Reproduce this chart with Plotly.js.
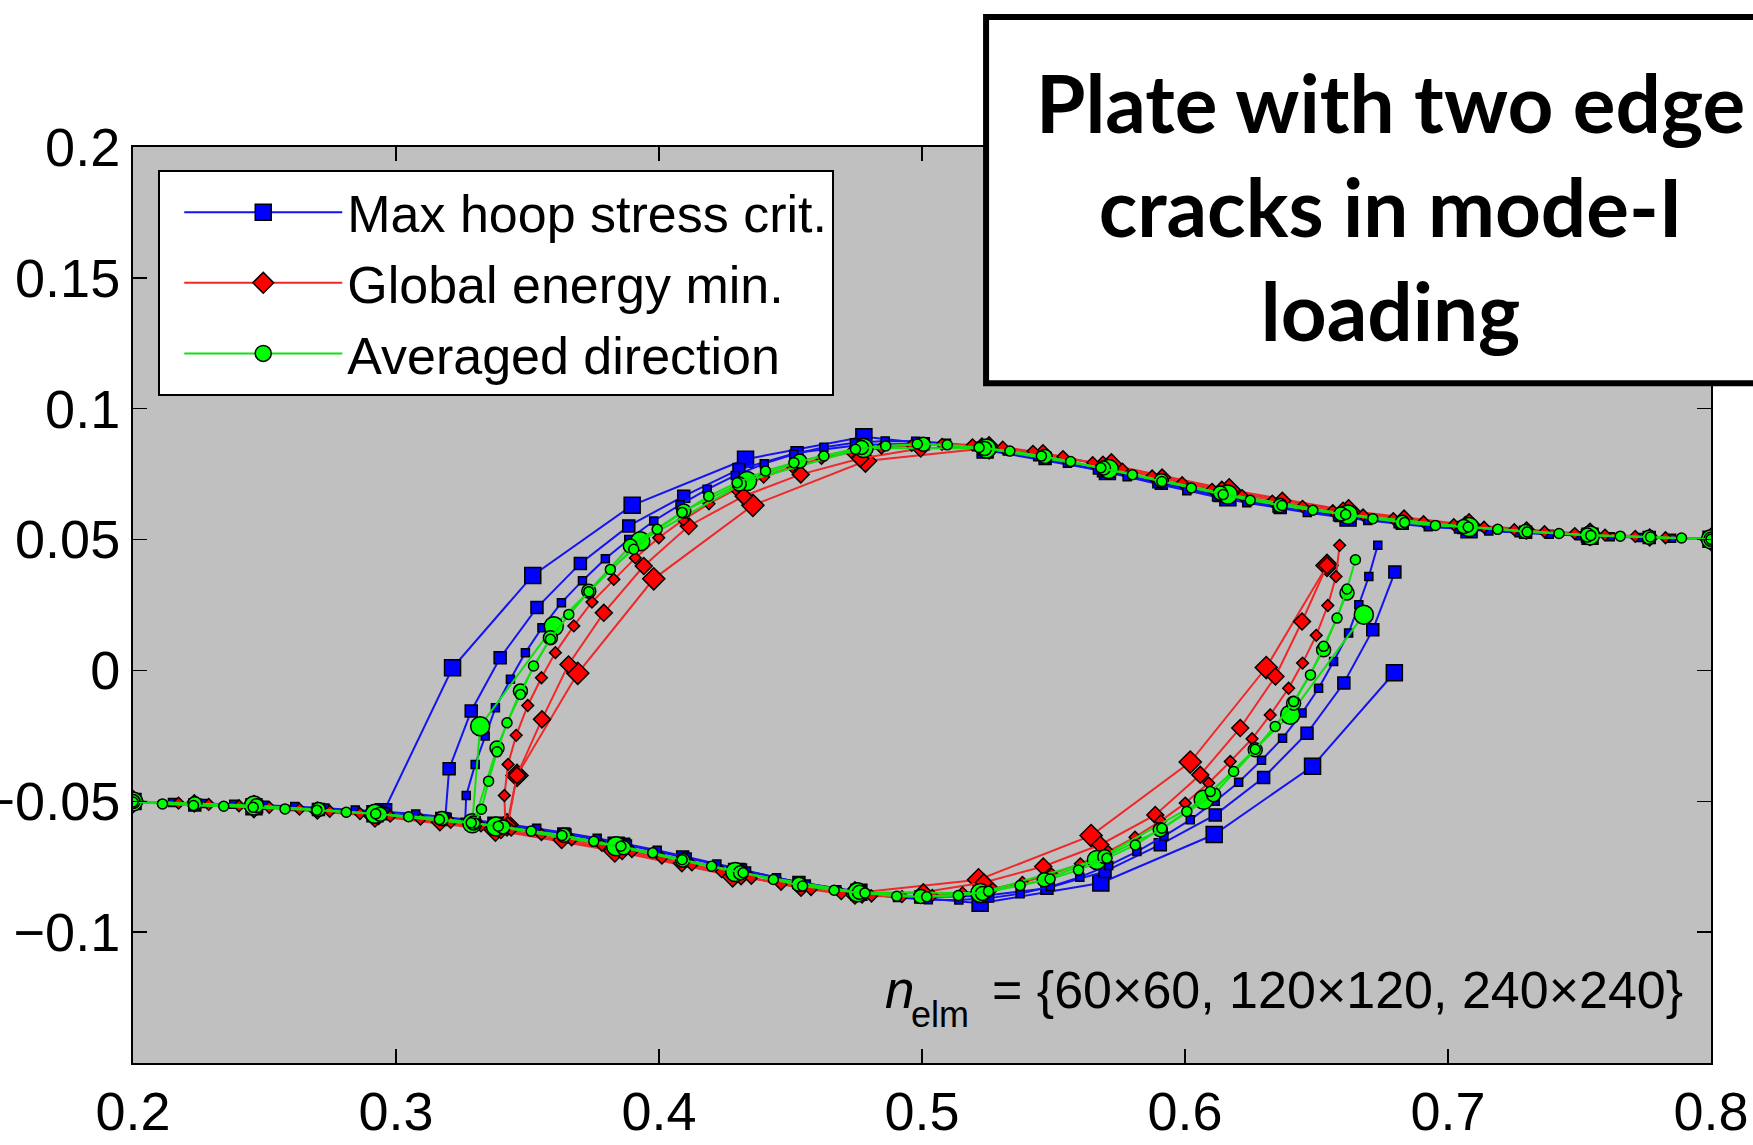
<!DOCTYPE html>
<html><head><meta charset="utf-8">
<script src="https://cdn.plot.ly/plotly-3.0.1.min.js"></script>
<style>html,body{margin:0;padding:0;background:#fff;} #chart{width:1753px;height:1145px;}</style>
</head><body><div id="chart"></div>
<script>
// ---- Crack paths (x, y) ----
// Right crack starts at (0.8, 0.05); left crack starts at (0.2, -0.05)

// Max hoop stress criterion
const blueCoarseRightX = [0.8000, 0.7540, 0.7080, 0.6620, 0.6163, 0.5705, 0.5240, 0.4779, 0.4329, 0.3898, 0.3520, 0.3215, 0.2953];
const blueCoarseRightY = [0.0501, 0.0513, 0.0538, 0.0582, 0.0660, 0.0760, 0.0842, 0.0893, 0.0807, 0.0631, 0.0363, 0.0010, -0.0540];
const blueCoarseLeftX = [0.2000, 0.2460, 0.2920, 0.3380, 0.3837, 0.4295, 0.4760, 0.5221, 0.5680, 0.6111, 0.6485, 0.6796];
const blueCoarseLeftY = [-0.0501, -0.0521, -0.0548, -0.0592, -0.0668, -0.0768, -0.0848, -0.0890, -0.0812, -0.0627, -0.0366, -0.0009];

const blueMediumRightX = [0.8000, 0.7765, 0.7530, 0.7295, 0.7060, 0.6826, 0.6593, 0.6362, 0.6134, 0.5910, 0.5690, 0.5468, 0.5238, 0.5005, 0.4771, 0.4525, 0.4304, 0.4094, 0.3885, 0.3701, 0.3536, 0.3396, 0.3286, 0.3202, 0.3187];
const blueMediumRightY = [0.0501, 0.0508, 0.0515, 0.0528, 0.0546, 0.0562, 0.0592, 0.0623, 0.0668, 0.0715, 0.0763, 0.0810, 0.0846, 0.0866, 0.0862, 0.0832, 0.0768, 0.0666, 0.0552, 0.0409, 0.0240, 0.0048, -0.0155, -0.0376, -0.0570];
const blueMediumLeftX = [0.2000, 0.2235, 0.2470, 0.2705, 0.2940, 0.3174, 0.3407, 0.3638, 0.3866, 0.4090, 0.4310, 0.4532, 0.4762, 0.4995, 0.5229, 0.5475, 0.5696, 0.5906, 0.6115, 0.6299, 0.6464, 0.6604, 0.6714, 0.6798];
const blueMediumLeftY = [-0.0501, -0.0514, -0.0521, -0.0531, -0.0545, -0.0566, -0.0590, -0.0625, -0.0664, -0.0713, -0.0763, -0.0810, -0.0846, -0.0866, -0.0862, -0.0832, -0.0768, -0.0666, -0.0552, -0.0409, -0.0240, -0.0048, 0.0155, 0.0376];

const blueFineRightX = [0.8000, 0.7850, 0.7733, 0.7617, 0.7501, 0.7385, 0.7270, 0.7155, 0.7040, 0.6925, 0.6810, 0.6695, 0.6580, 0.6465, 0.6350, 0.6235, 0.6120, 0.6007, 0.5893, 0.5780, 0.5667, 0.5553, 0.5440, 0.5324, 0.5209, 0.5093, 0.4976, 0.4860, 0.4743, 0.4627, 0.4512, 0.4400, 0.4290, 0.4183, 0.4080, 0.3980, 0.3885, 0.3796, 0.3709, 0.3629, 0.3555, 0.3492, 0.3435, 0.3378, 0.3339, 0.3301, 0.3267, 0.3263];
const blueFineRightY = [0.0501, 0.0505, 0.0508, 0.0511, 0.0515, 0.0520, 0.0526, 0.0533, 0.0540, 0.0549, 0.0560, 0.0573, 0.0587, 0.0603, 0.0621, 0.0641, 0.0663, 0.0687, 0.0713, 0.0740, 0.0766, 0.0792, 0.0816, 0.0838, 0.0855, 0.0868, 0.0876, 0.0877, 0.0870, 0.0853, 0.0826, 0.0790, 0.0745, 0.0692, 0.0633, 0.0571, 0.0500, 0.0427, 0.0343, 0.0259, 0.0163, 0.0068, -0.0034, -0.0143, -0.0251, -0.0359, -0.0478, -0.0580];
const blueFineLeftX = [0.2000, 0.2150, 0.2267, 0.2383, 0.2499, 0.2615, 0.2730, 0.2845, 0.2960, 0.3075, 0.3190, 0.3305, 0.3420, 0.3535, 0.3650, 0.3765, 0.3880, 0.3993, 0.4107, 0.4220, 0.4333, 0.4447, 0.4560, 0.4676, 0.4791, 0.4907, 0.5024, 0.5140, 0.5257, 0.5373, 0.5488, 0.5600, 0.5710, 0.5817, 0.5920, 0.6020, 0.6115, 0.6204, 0.6291, 0.6371, 0.6445, 0.6508, 0.6565, 0.6622, 0.6661, 0.6699, 0.6733];
const blueFineLeftY = [-0.0501, -0.0505, -0.0508, -0.0511, -0.0515, -0.0520, -0.0526, -0.0533, -0.0540, -0.0549, -0.0560, -0.0573, -0.0587, -0.0603, -0.0621, -0.0641, -0.0663, -0.0687, -0.0713, -0.0740, -0.0766, -0.0792, -0.0816, -0.0838, -0.0855, -0.0868, -0.0876, -0.0877, -0.0870, -0.0853, -0.0826, -0.0790, -0.0745, -0.0692, -0.0633, -0.0571, -0.0500, -0.0427, -0.0343, -0.0259, -0.0163, -0.0068, 0.0034, 0.0143, 0.0251, 0.0359, 0.0478];

// Global energy minimisation
const redCoarseRightX = [0.8000, 0.7540, 0.7080, 0.6622, 0.6168, 0.5720, 0.5255, 0.4785, 0.4357, 0.3980, 0.3691, 0.3460, 0.3422];
const redCoarseRightY = [0.0501, 0.0520, 0.0556, 0.0610, 0.0690, 0.0785, 0.0850, 0.0800, 0.0631, 0.0350, -0.0011, -0.0401, -0.0590];
const redCoarseLeftX = [0.2000, 0.2460, 0.2920, 0.3378, 0.3832, 0.4280, 0.4745, 0.5215, 0.5643, 0.6020, 0.6309, 0.6540];
const redCoarseLeftY = [-0.0501, -0.0520, -0.0556, -0.0610, -0.0690, -0.0785, -0.0850, -0.0800, -0.0631, -0.0350, 0.0011, 0.0401];

const redMediumRightX = [0.8000, 0.7767, 0.7533, 0.7299, 0.7066, 0.6833, 0.6601, 0.6370, 0.6140, 0.5913, 0.5688, 0.5460, 0.5228, 0.4995, 0.4765, 0.4539, 0.4322, 0.4113, 0.3942, 0.3790, 0.3656, 0.3555, 0.3460, 0.3425];
const redMediumRightY = [0.0501, 0.0508, 0.0519, 0.0535, 0.0556, 0.0580, 0.0610, 0.0648, 0.0690, 0.0737, 0.0786, 0.0830, 0.0856, 0.0848, 0.0810, 0.0749, 0.0666, 0.0552, 0.0399, 0.0220, 0.0023, -0.0187, -0.0401, -0.0592];
const redMediumLeftX = [0.2000, 0.2233, 0.2467, 0.2701, 0.2934, 0.3167, 0.3399, 0.3630, 0.3860, 0.4087, 0.4312, 0.4540, 0.4772, 0.5005, 0.5235, 0.5461, 0.5678, 0.5887, 0.6058, 0.6210, 0.6344, 0.6445, 0.6540];
const redMediumLeftY = [-0.0501, -0.0508, -0.0519, -0.0535, -0.0556, -0.0580, -0.0610, -0.0648, -0.0690, -0.0737, -0.0786, -0.0830, -0.0856, -0.0848, -0.0810, -0.0749, -0.0666, -0.0552, -0.0399, -0.0220, -0.0023, 0.0187, 0.0401];

const redFineRightX = [0.8000, 0.7827, 0.7712, 0.7597, 0.7482, 0.7367, 0.7252, 0.7137, 0.7022, 0.6907, 0.6792, 0.6677, 0.6562, 0.6447, 0.6332, 0.6217, 0.6103, 0.5989, 0.5875, 0.5762, 0.5649, 0.5536, 0.5422, 0.5307, 0.5192, 0.5076, 0.4961, 0.4846, 0.4731, 0.4618, 0.4507, 0.4398, 0.4292, 0.4190, 0.4092, 0.3999, 0.3910, 0.3828, 0.3745, 0.3676, 0.3606, 0.3553, 0.3501, 0.3457, 0.3426, 0.3412, 0.3416];
const redFineRightY = [0.0501, 0.0507, 0.0512, 0.0517, 0.0523, 0.0530, 0.0538, 0.0547, 0.0557, 0.0568, 0.0580, 0.0594, 0.0610, 0.0627, 0.0647, 0.0668, 0.0692, 0.0717, 0.0743, 0.0769, 0.0794, 0.0817, 0.0837, 0.0853, 0.0862, 0.0864, 0.0860, 0.0850, 0.0834, 0.0810, 0.0778, 0.0739, 0.0692, 0.0637, 0.0575, 0.0507, 0.0430, 0.0348, 0.0261, 0.0170, 0.0068, -0.0028, -0.0134, -0.0248, -0.0359, -0.0478, -0.0590];
const redFineLeftX = [0.2000, 0.2173, 0.2288, 0.2403, 0.2518, 0.2633, 0.2748, 0.2863, 0.2978, 0.3093, 0.3208, 0.3323, 0.3438, 0.3553, 0.3668, 0.3783, 0.3897, 0.4011, 0.4125, 0.4238, 0.4351, 0.4464, 0.4578, 0.4693, 0.4808, 0.4924, 0.5039, 0.5154, 0.5269, 0.5382, 0.5493, 0.5602, 0.5708, 0.5810, 0.5908, 0.6001, 0.6090, 0.6172, 0.6255, 0.6324, 0.6394, 0.6447, 0.6499, 0.6543, 0.6574, 0.6588];
const redFineLeftY = [-0.0501, -0.0507, -0.0512, -0.0517, -0.0523, -0.0530, -0.0538, -0.0547, -0.0557, -0.0568, -0.0580, -0.0594, -0.0610, -0.0627, -0.0647, -0.0668, -0.0692, -0.0717, -0.0743, -0.0769, -0.0794, -0.0817, -0.0837, -0.0853, -0.0862, -0.0864, -0.0860, -0.0850, -0.0834, -0.0810, -0.0778, -0.0739, -0.0692, -0.0637, -0.0575, -0.0507, -0.0430, -0.0348, -0.0261, -0.0170, -0.0068, 0.0028, 0.0134, 0.0248, 0.0359, 0.0478];

// Averaged direction
const greenCoarseRightX = [0.8000, 0.7540, 0.7080, 0.6620, 0.6163, 0.5710, 0.5245, 0.4778, 0.4335, 0.3929, 0.3600, 0.3320, 0.3290];
const greenCoarseRightY = [0.0501, 0.0516, 0.0548, 0.0596, 0.0672, 0.0770, 0.0848, 0.0850, 0.0724, 0.0494, 0.0169, -0.0213, -0.0584];
const greenCoarseLeftX = [0.2000, 0.2460, 0.2920, 0.3380, 0.3837, 0.4290, 0.4755, 0.5222, 0.5665, 0.6071, 0.6400, 0.6680];
const greenCoarseLeftY = [-0.0501, -0.0516, -0.0548, -0.0596, -0.0672, -0.0770, -0.0848, -0.0850, -0.0724, -0.0494, -0.0169, 0.0213];

const greenMediumRightX = [0.8000, 0.7765, 0.7530, 0.7295, 0.7060, 0.6826, 0.6593, 0.6362, 0.6134, 0.5910, 0.5690, 0.5468, 0.5238, 0.5005, 0.4770, 0.4535, 0.4305, 0.4094, 0.3891, 0.3733, 0.3587, 0.3473, 0.3384, 0.3295];
const greenMediumRightY = [0.0501, 0.0509, 0.0517, 0.0531, 0.0550, 0.0566, 0.0598, 0.0630, 0.0678, 0.0725, 0.0773, 0.0817, 0.0848, 0.0864, 0.0852, 0.0800, 0.0712, 0.0609, 0.0475, 0.0303, 0.0125, -0.0079, -0.0296, -0.0583];
const greenMediumLeftX = [0.2000, 0.2235, 0.2470, 0.2705, 0.2940, 0.3174, 0.3407, 0.3638, 0.3866, 0.4090, 0.4310, 0.4532, 0.4762, 0.4995, 0.5230, 0.5465, 0.5695, 0.5906, 0.6109, 0.6267, 0.6413, 0.6527, 0.6616];
const greenMediumLeftY = [-0.0501, -0.0509, -0.0517, -0.0531, -0.0550, -0.0566, -0.0598, -0.0630, -0.0678, -0.0725, -0.0773, -0.0817, -0.0848, -0.0864, -0.0852, -0.0800, -0.0712, -0.0609, -0.0475, -0.0303, -0.0125, 0.0079, 0.0296];

const greenFineRightX = [0.8000, 0.7888, 0.7770, 0.7655, 0.7543, 0.7422, 0.7301, 0.7189, 0.7077, 0.6952, 0.6835, 0.6714, 0.6611, 0.6486, 0.6369, 0.6248, 0.6145, 0.6024, 0.5912, 0.5800, 0.5680, 0.5565, 0.5454, 0.5334, 0.5217, 0.5096, 0.4982, 0.4862, 0.4747, 0.4627, 0.4513, 0.4405, 0.4297, 0.4189, 0.4088, 0.3993, 0.3904, 0.3815, 0.3733, 0.3657, 0.3587, 0.3523, 0.3473, 0.3422, 0.3384, 0.3352, 0.3325, 0.3300];
const greenFineRightY = [0.0501, 0.0506, 0.0510, 0.0513, 0.0516, 0.0523, 0.0529, 0.0539, 0.0548, 0.0554, 0.0565, 0.0580, 0.0596, 0.0612, 0.0630, 0.0650, 0.0672, 0.0697, 0.0722, 0.0748, 0.0774, 0.0798, 0.0819, 0.0838, 0.0852, 0.0862, 0.0865, 0.0858, 0.0845, 0.0819, 0.0794, 0.0762, 0.0717, 0.0666, 0.0603, 0.0539, 0.0463, 0.0386, 0.0301, 0.0214, 0.0119, 0.0017, -0.0092, -0.0200, -0.0311, -0.0423, -0.0530, -0.0584];
const greenFineLeftX = [0.2000, 0.2112, 0.2230, 0.2345, 0.2457, 0.2578, 0.2699, 0.2811, 0.2923, 0.3048, 0.3165, 0.3286, 0.3389, 0.3514, 0.3631, 0.3752, 0.3855, 0.3976, 0.4088, 0.4200, 0.4320, 0.4435, 0.4546, 0.4666, 0.4783, 0.4904, 0.5018, 0.5138, 0.5253, 0.5373, 0.5487, 0.5595, 0.5703, 0.5811, 0.5912, 0.6007, 0.6096, 0.6185, 0.6267, 0.6343, 0.6413, 0.6477, 0.6527, 0.6578, 0.6616, 0.6648];
const greenFineLeftY = [-0.0503, -0.0510, -0.0516, -0.0519, -0.0523, -0.0529, -0.0534, -0.0542, -0.0548, -0.0559, -0.0570, -0.0582, -0.0595, -0.0614, -0.0631, -0.0653, -0.0672, -0.0697, -0.0723, -0.0748, -0.0773, -0.0799, -0.0824, -0.0840, -0.0850, -0.0863, -0.0865, -0.0860, -0.0844, -0.0822, -0.0797, -0.0763, -0.0718, -0.0667, -0.0603, -0.0539, -0.0463, -0.0386, -0.0301, -0.0214, -0.0119, -0.0017, 0.0092, 0.0200, 0.0311, 0.0423];

const methodNames = ['Max hoop stress crit.', 'Global energy min.', 'Averaged direction'];
const xTicks = [0.2, 0.3, 0.4, 0.5, 0.6, 0.7, 0.8];
const yTicks = [-0.1, -0.05, 0, 0.05, 0.1, 0.15, 0.2];
const yTickText = ['\u22120.1', '\u22120.05', '0', '0.05', '0.1', '0.15', '0.2'];
const meshSymbol = '<i>n</i>';
const meshSub = 'elm';
const meshValues = '= {60\u00d760, 120\u00d7120, 240\u00d7240}';
const boxTitle = '<b>Plate with two edge<br>cracks in mode-I<br>loading</b>';

// ---- styling ----
const methods = [
  {name: methodNames[0], line: '#1414f0', fill: '#0000ff', symbol: 'square', sizes: [16, 12, 8],
   sets: [[blueCoarseRightX, blueCoarseRightY, blueCoarseLeftX, blueCoarseLeftY],
          [blueMediumRightX, blueMediumRightY, blueMediumLeftX, blueMediumLeftY],
          [blueFineRightX, blueFineRightY, blueFineLeftX, blueFineLeftY]]},
  {name: methodNames[1], line: '#f02828', fill: '#ff0000', symbol: 'diamond', sizes: [17, 13, 9],
   sets: [[redCoarseRightX, redCoarseRightY, redCoarseLeftX, redCoarseLeftY],
          [redMediumRightX, redMediumRightY, redMediumLeftX, redMediumLeftY],
          [redFineRightX, redFineRightY, redFineLeftX, redFineLeftY]]},
  {name: methodNames[2], line: '#10e010', fill: '#00ff00', symbol: 'circle', sizes: [19, 14, 10],
   sets: [[greenCoarseRightX, greenCoarseRightY, greenCoarseLeftX, greenCoarseLeftY],
          [greenMediumRightX, greenMediumRightY, greenMediumLeftX, greenMediumLeftY],
          [greenFineRightX, greenFineRightY, greenFineLeftX, greenFineLeftY]]}
];

const traces = [];
methods.forEach(function (m) {
  m.sets.forEach(function (s, k) {
    traces.push({
      type: 'scatter', mode: 'lines+markers',
      x: s[0].concat([null], s[2]),
      y: s[1].concat([null], s[3]),
      name: m.name, legendgroup: m.name, showlegend: k === 0,
      line: {color: m.line, width: 2},
      marker: {symbol: m.symbol, size: m.sizes[k], color: m.fill, line: {color: '#000', width: 1.5}},
      hoverinfo: 'x+y'
    });
  });
});

const sansFont = '"Liberation Sans", Arial, sans-serif';
const axisCommon = {
  showline: true, linecolor: '#000', linewidth: 2, mirror: 'ticks',
  ticks: 'inside', ticklen: 14, tickwidth: 1.5, tickcolor: '#000',
  showgrid: false, zeroline: false,
  tickfont: {family: sansFont, size: 54, color: '#000'}
};

const layout = {
  width: 1753, height: 1145,
  margin: {l: 133, r: 42, t: 147, b: 82},
  paper_bgcolor: '#ffffff', plot_bgcolor: '#c0c0c0',
  xaxis: Object.assign({}, axisCommon, {range: [0.2, 0.8], tickmode: 'array', tickvals: xTicks, ticktext: xTicks.map(String)}),
  yaxis: Object.assign({}, axisCommon, {range: [-0.15, 0.2], tickmode: 'array', tickvals: yTicks, ticktext: yTickText}),
  showlegend: true,
  legend: {x: 0.016, y: 0.975, xanchor: 'left', yanchor: 'top', bgcolor: '#fff', bordercolor: '#000', borderwidth: 2,
           font: {family: sansFont, size: 52, color: '#000'}, itemwidth: 158, indentation: 19, tracegroupgap: 0},
  shapes: [{type: 'rect', xref: 'paper', yref: 'paper', x0: 0.5406, x1: 1.08, y0: 0.742, y1: 1.142,
            fillcolor: '#fff', line: {color: '#000', width: 6}, layer: 'above'}],
  annotations: [
    {xref: 'paper', yref: 'paper', x: 0.797, y: 0.936, xanchor: 'center', yanchor: 'middle', showarrow: false,
     text: boxTitle, align: 'center', font: {family: 'Lato, "Open Sans", sans-serif', size: 80, color: '#000'}},
    {xref: 'x', yref: 'y', x: 0.4852, y: -0.122, xanchor: 'left', yanchor: 'middle', showarrow: false,
     text: meshSymbol, font: {family: sansFont, size: 53, color: '#000'}},
    {xref: 'x', yref: 'y', x: 0.4950, y: -0.1315, xanchor: 'left', yanchor: 'middle', showarrow: false,
     text: meshSub, font: {family: sansFont, size: 36, color: '#000'}},
    {xref: 'x', yref: 'y', x: 0.7901, y: -0.122, xanchor: 'right', yanchor: 'middle', showarrow: false,
     text: meshValues, font: {family: sansFont, size: 52, color: '#000'}}
  ]
};

Plotly.newPlot('chart', traces, layout, {displayModeBar: false, staticPlot: true});
</script>
</body></html>
